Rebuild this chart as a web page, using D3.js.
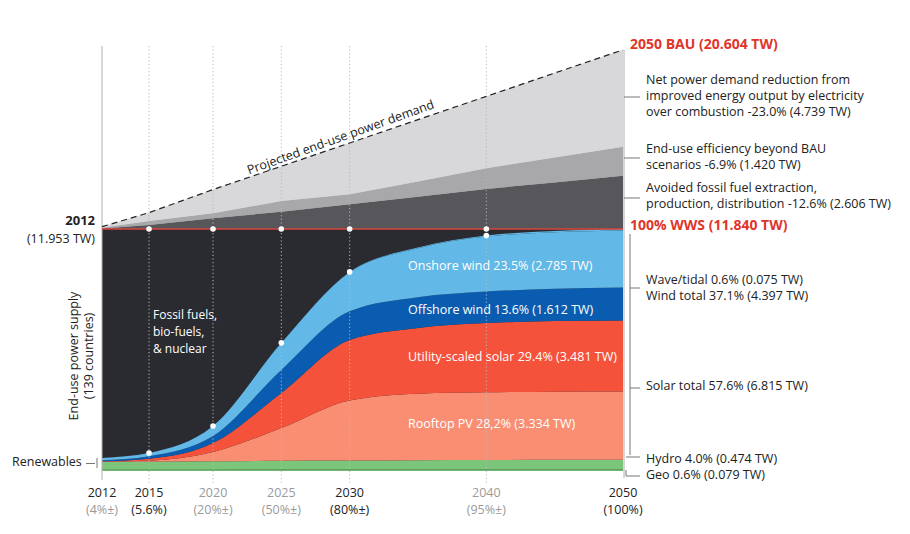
<!DOCTYPE html>
<html><head><meta charset="utf-8">
<script src="https://cdn.jsdelivr.net/npm/d3@7"></script>
<style>
html,body{margin:0;padding:0;background:#fff;}
svg{display:block;font-family:"Open Sans","Noto Sans",sans-serif;}
</style></head>
<body>
<svg id="chart" width="910" height="534"></svg>
<script>
// ---------- data ----------
const years    = [2012, 2015, 2020, 2025, 2030, 2035, 2040, 2045, 2050];
const geo      = [0.06, 0.06, 0.065, 0.07, 0.072, 0.075, 0.077, 0.078, 0.079];
const hydro    = [0.38, 0.39, 0.41, 0.43, 0.44, 0.45, 0.46, 0.47, 0.474];
const rooftop  = [0.02, 0.05, 0.455, 1.6, 2.94, 3.255, 3.31, 3.33, 3.334];
const utility  = [0.02, 0.10, 0.44, 1.72, 2.96, 3.22, 3.39, 3.46, 3.481];
const offshore = [0.04, 0.12, 0.34, 1.12, 1.40, 1.50, 1.54, 1.58, 1.612];
const onshore  = [0.12, 0.16, 0.49, 1.32, 1.91, 2.40, 2.69, 2.76, 2.785];
const wave     = [0, 0, 0.005, 0.01, 0.02, 0.03, 0.05, 0.065, 0.075];
const wwsTotal = 11.84;
// demand boundaries above the WWS line (TW)
const bauDemand        = [11.953, 12.64, 13.77, 14.91, 16.05, 17.19, 18.33, 19.47, 20.604];
const afterElectrif    = [11.90, 12.23, 12.61, 13.21, 13.54, 14.17, 14.81, 15.34, 15.865];
const afterEfficiency  = [11.87, 12.04, 12.36, 12.69, 13.05, 13.42, 13.80, 14.12, 14.445];

const tickYears  = [2012, 2015, 2020, 2025, 2030, 2040, 2050];
const tickShares = ["(4%±)", "(5.6%)", "(20%±)", "(50%±)", "(80%±)", "(95%±)", "(100%)"];
const yearDark   = [true, true, false, false, true, false, true];
const shareDark  = [false, true, false, false, true, false, true];
const dotYears   = [2015, 2020, 2025, 2030, 2040];

const layerKeys   = ["geo", "hydro", "rooftop", "utility", "offshore", "onshore", "wave"];
const layerColors = {geo:"#6dbb6e", hydro:"#7cc67c", rooftop:"#f98e73", utility:"#f4523a",
                     offshore:"#0a5cb0", onshore:"#62b8e6", wave:"#62b8e6"};

// ---------- setup ----------
const svg = d3.select("#chart");
const x = d3.scaleLinear().domain([2012, 2015, 2020, 2050]).range([102, 149, 213, 623]);
const y = d3.scaleLinear().domain([0, wwsTotal]).range([471, 229]);

const series = {geo, hydro, rooftop, utility, offshore, onshore, wave};
const rows = years.map((yr, i) => {
  const r = {year: yr};
  layerKeys.forEach(k => r[k] = series[k][i]);
  return r;
});
const stacked = d3.stack().keys(layerKeys)(rows);

// gray demand-reduction layers
const grayRows = years.map((yr, i) => ({year: yr, bau: bauDemand[i], el: afterElectrif[i], ef: afterEfficiency[i]}));
const grayArea = (top, bot) => d3.area().x(d => x(d.year)).y0(bot).y1(top);
svg.append("path").datum(grayRows).attr("fill", "#d8d8da")
  .attr("d", grayArea(d => y(d.bau), d => y(d.el)));
svg.append("path").datum(grayRows).attr("fill", "#a8a8ab")
  .attr("d", grayArea(d => y(d.el), d => y(d.ef)));
svg.append("path").datum(grayRows).attr("fill", "#57575b")
  .attr("d", grayArea(d => y(d.ef), d => y(wwsTotal)));

// fossil (dark) area from 0 to WWS line
svg.append("path").datum(rows).attr("fill", "#2a2b31")
  .attr("d", d3.area().x(d => x(d.year)).y0(y(0)).y1(y(wwsTotal)));

// renewable stacked layers
const area = d3.area().curve(d3.curveMonotoneX)
  .x(d => x(d.data.year)).y0(d => y(d[0])).y1(d => y(d[1]));
svg.append("g").selectAll("path").data(stacked).join("path")
  .attr("fill", d => layerColors[d.key]).attr("d", area);

// dotted vertical grid lines
svg.append("g").selectAll("line").data(dotYears).join("line")
  .attr("x1", d => x(d)).attr("x2", d => x(d))
  .attr("y1", 46).attr("y2", 484)
  .attr("stroke", "#b8b8b8").attr("stroke-width", 1).attr("stroke-dasharray", "1.2,2.4");

// left & right frame lines
svg.append("line").attr("x1", x(2012)).attr("x2", x(2012)).attr("y1", 46).attr("y2", 480)
  .attr("stroke", "#b0b0b0").attr("stroke-width", 1);
svg.append("line").attr("x1", x(2050)+1).attr("x2", x(2050)+1).attr("y1", y(20.604)).attr("y2", 478)
  .attr("stroke", "#b0b0b0").attr("stroke-width", 1);

// WWS red line
svg.append("line").attr("x1", x(2012)).attr("x2", x(2050)).attr("y1", y(wwsTotal)).attr("y2", y(wwsTotal))
  .attr("stroke", "#d8463b").attr("stroke-width", 1.3);

// dashed projected demand line
svg.append("path").datum(grayRows).attr("fill", "none").attr("stroke", "#222")
  .attr("stroke-width", 1.2).attr("stroke-dasharray", "6,4")
  .attr("d", d3.line().x(d => x(d.year)).y(d => y(d.bau)));

// white dots
const lastIdx = stacked.length - 1;
svg.append("g").selectAll("circle").data(dotYears).join("circle")
  .attr("cx", d => x(d)).attr("cy", y(wwsTotal)).attr("r", 2.8).attr("fill", "#fff");
svg.append("g").selectAll("circle").data(dotYears).join("circle")
  .attr("cx", d => x(d)).attr("cy", d => y(stacked[lastIdx][years.indexOf(d)][1])).attr("r", 2.8).attr("fill", "#fff");

// ---------- text ----------
const txt = (xx, yy, s, opt = {}) => svg.append("text").attr("x", xx).attr("y", yy).text(s)
  .attr("font-size", opt.size || 12.5).attr("fill", opt.fill || "#222")
  .attr("font-weight", opt.weight || 400).attr("text-anchor", opt.anchor || "start")
  .attr("dominant-baseline", "middle");

// projected label sitting on the dashed line
const pa = Math.atan2(y(bauDemand[6]) - y(bauDemand[0]), x(2040) - x(2012)) * 180 / Math.PI;
const lx = 342;
const ly = y(bauDemand[0]) + (y(bauDemand[8]) - y(bauDemand[0])) * (lx - x(2012)) / (x(2050) - x(2012));
svg.append("text").attr("transform", `translate(${lx},${ly - 4}) rotate(${pa - 1})`)
  .attr("text-anchor", "middle").attr("font-size", 12.5).attr("fill", "#222")
  .text("Projected end-use power demand");

// x-axis labels
tickYears.forEach((yr, i) => {
  txt(x(yr), 494, String(yr), {anchor: "middle", fill: yearDark[i] ? "#222" : "#9a9a9a"});
  txt(x(yr), 511, tickShares[i], {anchor: "middle", fill: shareDark[i] ? "#222" : "#9a9a9a"});
});

// left labels
txt(95, 222, "2012", {anchor: "end", weight: 700, size: 13});
txt(95, 240, "(11.953 TW)", {anchor: "end", size: 12.5});
svg.append("text").attr("transform", "translate(75,356) rotate(-90)").attr("text-anchor", "middle")
  .attr("dominant-baseline", "middle").attr("font-size", 12.5).attr("fill", "#222").text("End-use power supply");
svg.append("text").attr("transform", "translate(90,356) rotate(-90)").attr("text-anchor", "middle")
  .attr("dominant-baseline", "middle").attr("font-size", 12.5).attr("fill", "#222").text("(139 countries)");
txt(12, 463, "Renewables", {size: 12.5});
svg.append("path").attr("d", "M86,463.5H95M97,458V468").attr("stroke", "#777").attr("fill", "none");

// in-chart labels
txt(153, 316, "Fossil fuels,", {fill: "#fff", size: 12});
txt(153, 333, "bio-fuels,", {fill: "#fff", size: 12});
txt(153, 350, "& nuclear", {fill: "#fff", size: 12});
txt(408, 267, "Onshore wind 23.5% (2.785 TW)", {fill: "#fff"});
txt(408, 311, "Offshore wind 13.6% (1.612 TW)", {fill: "#fff"});
txt(408, 358, "Utility-scaled solar 29.4% (3.481 TW)", {fill: "#fff"});
txt(408, 425, "Rooftop PV 28,2% (3.334 TW)", {fill: "#fff"});

// right labels
const red = "#e0352b";
txt(630, 45, "2050 BAU (20.604 TW)", {fill: red, weight: 700, size: 14});
txt(630, 226, "100% WWS (11.840 TW)", {fill: red, weight: 700, size: 14});
const rl = (yy, s) => txt(646, yy, s);
rl(81, "Net power demand reduction from");
rl(97, "improved energy output by electricity");
rl(113, "over combustion -23.0% (4.739 TW)");
rl(150, "End-use efficiency beyond BAU");
rl(166, "scenarios -6.9% (1.420 TW)");
rl(189, "Avoided fossil fuel extraction,");
rl(205, "production, distribution -12.6% (2.606 TW)");
rl(281, "Wave/tidal 0.6% (0.075 TW)");
rl(297, "Wind total 37.1% (4.397 TW)");
rl(387, "Solar total 57.6% (6.815 TW)");
rl(460, "Hydro 4.0% (0.474 TW)");
rl(476, "Geo 0.6% (0.079 TW)");

const tk = "#777";
svg.append("path").attr("fill", "none").attr("stroke", tk).attr("stroke-width", 1)
  .attr("d", "M624,97H640M624,158H640M624,198H640" +
             "M630,234V455M630,288H640M630,388H640" +
             "M626,457H640M626,470V476H640");
</script>
</body></html>
